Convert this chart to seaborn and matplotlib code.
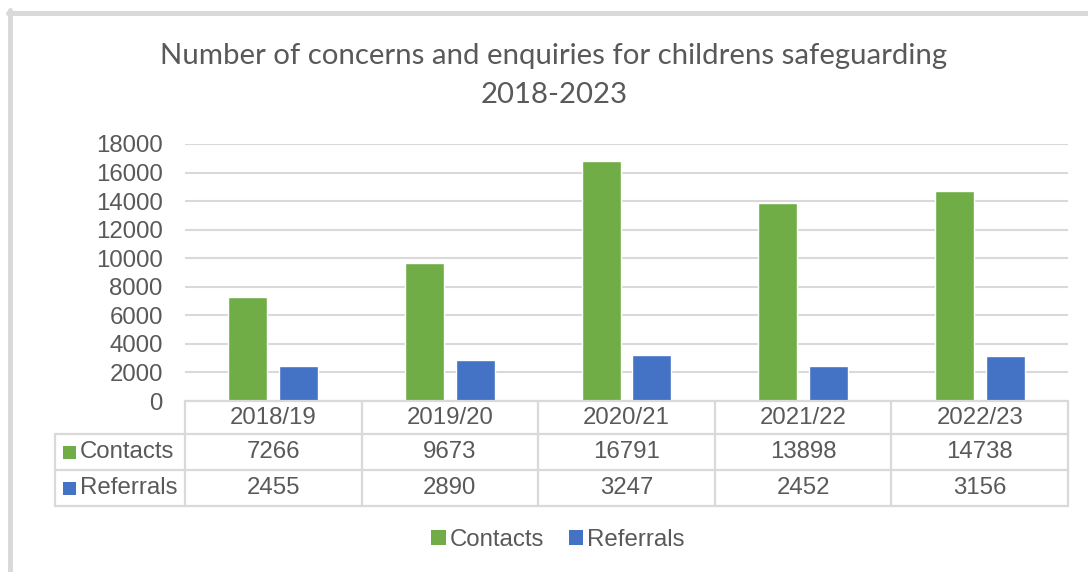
import matplotlib
matplotlib.use("Agg")
import matplotlib.pyplot as plt
from matplotlib.patches import Rectangle, Patch
from matplotlib.lines import Line2D
import seaborn as sns
import pandas as pd

# Data
years = ["2018/19", "2019/20", "2020/21", "2021/22", "2022/23"]
contacts = [7266, 9673, 16791, 13898, 14738]
referrals = [2455, 2890, 3247, 2452, 3156]
series_names = ["Contacts", "Referrals"]
series_colors = ["#70AD47", "#4472C4"]
y_ticks = list(range(0, 18001, 2000))
title_lines = ["Number of concerns and enquiries for childrens safeguarding", "2018-2023"]

W, H = 1088, 572
TEXT = "#595959"
LINE = "#D9D9D9"
FS = 17.3

sns.set_theme(style="white")
plt.rcParams["font.family"] = ["Liberation Sans", "DejaVu Sans"]

df = pd.DataFrame({
    "Year": years * 2,
    "Value": contacts + referrals,
    "Series": [series_names[0]] * len(years) + [series_names[1]] * len(years),
})

fig = plt.figure(figsize=(W / 100, H / 100), dpi=100)


def fx(px):
    return px / W


def fy(py):
    return 1 - py / H


# Plot area
ax = fig.add_axes([fx(185), fy(401), fx(1068) - fx(185), fy(144) - fy(401)])
sns.barplot(data=df, x="Year", y="Value", hue="Series", order=years,
            hue_order=series_names, palette=series_colors, saturation=1,
            width=0.574, gap=0.23, legend=False, ax=ax, zorder=3)
ax.set_xlim(-0.5, len(years) - 0.5)
ax.set_ylim(0, 18000)
ax.set_yticks(y_ticks)
ax.tick_params(axis="y", length=0, pad=16, labelsize=FS, labelcolor=TEXT)
ax.tick_params(axis="x", bottom=False, labelbottom=False)
ax.set_xlabel("")
ax.set_ylabel("")
for s in ax.spines.values():
    s.set_visible(False)
ax.yaxis.grid(True, color=LINE, lw=1.5)
ax.set_axisbelow(True)


def hline(y, x0, x1):
    fig.add_artist(Line2D([fx(x0), fx(x1)], [fy(y), fy(y)], color=LINE, lw=1.6,
                          transform=fig.transFigure))


def vline(x, y0, y1):
    fig.add_artist(Line2D([fx(x), fx(x)], [fy(y0), fy(y1)], color=LINE, lw=1.6,
                          transform=fig.transFigure))


# Data table under the axis
tbl_left, lab_left, tbl_right = 185, 55, 1068
row_edges = [401, 434, 470, 506]
col_w = (tbl_right - tbl_left) / len(years)
hline(row_edges[0], tbl_left, tbl_right)
for y in row_edges[1:]:
    hline(y, lab_left, tbl_right)
vline(lab_left, row_edges[1], row_edges[-1])
for k in range(len(years) + 1):
    vline(tbl_left + k * col_w, row_edges[0], row_edges[-1])

rows = [years, contacts, referrals]
for r, vals in enumerate(rows):
    yc = (row_edges[r] + row_edges[r + 1]) / 2
    for i, v in enumerate(vals):
        xc = tbl_left + (i + 0.5) * col_w
        fig.text(fx(xc), fy(yc), str(v), ha="center", va="center",
                 fontsize=FS, color=TEXT)

for r, (name, col) in enumerate(zip(series_names, series_colors), start=1):
    yc = (row_edges[r] + row_edges[r + 1]) / 2
    fig.add_artist(Rectangle((fx(63), fy(yc + 6.5)), 13 / W, 13 / H,
                             facecolor=col, edgecolor="none",
                             transform=fig.transFigure))
    fig.text(fx(80), fy(yc), name, ha="left", va="center",
             fontsize=FS, color=TEXT)

# Legend
handles = [Patch(facecolor=c, edgecolor="none") for c in series_colors]
fig.legend(handles, series_names, loc="center", bbox_to_anchor=(fx(558), fy(540)),
           ncol=2, frameon=False, fontsize=FS, labelcolor=TEXT,
           handlelength=0.6, handleheight=0.6, handletextpad=0.15,
           columnspacing=1.05)

# Title (two centred lines)
for line, base in zip(title_lines, [64, 103]):
    fig.text(fx(554), fy(base), line, ha="center", va="baseline", fontsize=21.2,
             family=["Lato", "DejaVu Sans"], color=TEXT)

# Chart frame
fig.add_artist(Line2D([fx(8), 1], [fy(12.5), fy(12.5)], color=LINE, lw=3.6,
                      transform=fig.transFigure))
fig.add_artist(Line2D([fx(10), fx(10)], [fy(10), 0], color=LINE, lw=3.6,
                      transform=fig.transFigure))

fig.savefig("out.png", dpi=100)
